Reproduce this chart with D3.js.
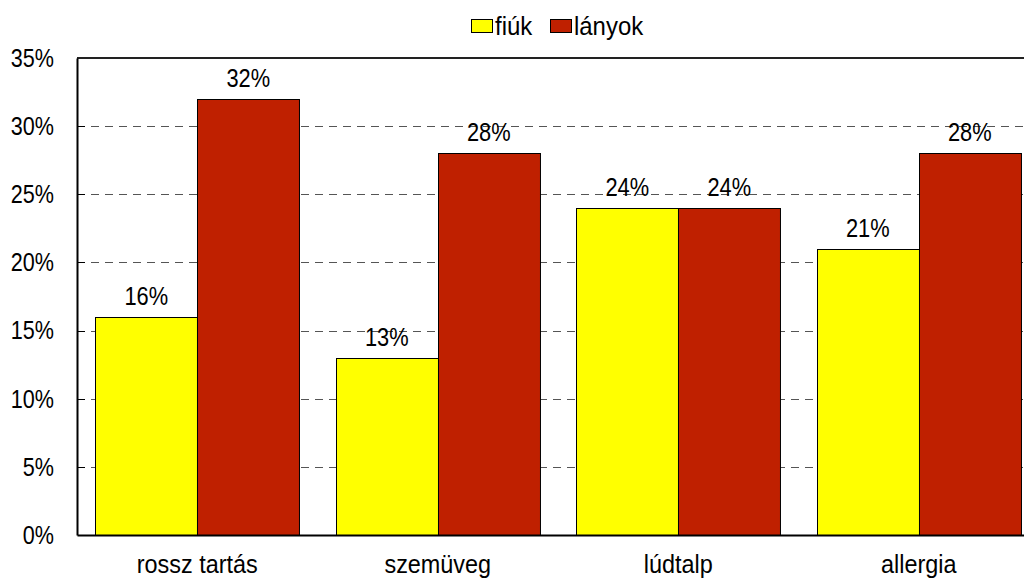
<!DOCTYPE html>
<html>
<head>
<meta charset="utf-8">
<script src="https://cdn.jsdelivr.net/npm/d3@7"></script>
<style>
  html, body { margin: 0; padding: 0; background: #fff; overflow: hidden; }
  svg text { font-family: "Liberation Sans", Arial, sans-serif; fill: #000; }
</style>
</head>
<body>
<div id="chart"></div>
<script>
// data
const categories = ['rossz tartás', 'szemüveg', 'lúdtalp', 'allergia']
const seriesNames = ['fiúk', 'lányok']
const fiuk = [16, 13, 24, 21]
const lanyok = [32, 28, 24, 28]
const yTicks = [0, 5, 10, 15, 20, 25, 30, 35]
const colors = ['#FFFF00', '#BF2000']

const width = 1024, height = 579
// plot area runs a bit past the right edge of the picture (it is cropped there)
const plotLeft = 77, plotRight = 1039, plotTop = 58, plotBottom = 535

const svg = d3.select('#chart').append('svg').attr('width', width).attr('height', height)

const y = d3.scaleLinear().domain([0, 35]).range([plotBottom, plotTop])
const x0 = d3.scaleBand().domain(categories).range([plotLeft, plotRight]).paddingInner(0.152).paddingOuter(0.076)
const x1 = d3.scaleBand().domain(seriesNames).range([0, x0.bandwidth()])

// squeeze text so it looks like the narrow font of the original
function squeeze(sel, k) {
  sel.each(function () {
    const w = this.getComputedTextLength()
    d3.select(this).attr('textLength', w * k).attr('lengthAdjust', 'spacingAndGlyphs')
  })
}

// gridlines
svg.append('g').selectAll('line')
  .data(yTicks.filter(t => t > 0 && t < 35))
  .enter().append('line')
  .attr('x1', plotLeft).attr('x2', plotRight)
  .attr('y1', d => Math.round(y(d)) + 0.5).attr('y2', d => Math.round(y(d)) + 0.5)
  .attr('stroke', '#555').attr('stroke-width', 1)
  .attr('stroke-dasharray', '8,6')

// bars
const rows = seriesNames.map((s, i) => ({ name: s, values: i === 0 ? fiuk : lanyok, color: colors[i] }))
const groups = svg.append('g').selectAll('g')
  .data(rows).enter().append('g')

groups.selectAll('rect')
  .data(r => r.values.map((v, j) => ({ v, cat: categories[j], name: r.name, color: r.color })))
  .enter().append('rect')
  .attr('x', d => Math.round(x0(d.cat) + x1(d.name)) + 0.5)
  .attr('y', d => Math.round(y(d.v)) + 0.5)
  .attr('width', x1.bandwidth())
  .attr('height', d => plotBottom - Math.round(y(d.v)))
  .attr('fill', d => d.color)
  .attr('stroke', '#000').attr('stroke-width', 1)

// value labels
const vals = groups.selectAll('text.val')
  .data(r => r.values.map((v, j) => ({ v, cat: categories[j], name: r.name })))
  .enter().append('text')
  .attr('class', 'val')
  .attr('x', d => x0(d.cat) + x1(d.name) + x1.bandwidth() / 2)
  .attr('y', d => y(d.v) - 12)
  .attr('text-anchor', 'middle')
  .style('font-size', '26px')
  .text(d => d.v + '%')
squeeze(vals, 0.84)

// top border
svg.append('line').attr('x1', plotLeft).attr('x2', plotRight).attr('y1', plotTop).attr('y2', plotTop)
  .attr('stroke', '#222').attr('stroke-width', 2)

// y axis
const yAxis = d3.axisLeft(y).tickValues(yTicks).tickSize(0).tickPadding(23).tickFormat(d => d + '%')
const gy = svg.append('g').attr('transform', `translate(${plotLeft},0)`).call(yAxis)
gy.select('.domain').attr('stroke', '#000').attr('stroke-width', 2)
gy.selectAll('text').style('font-size', '26px').attr('fill', '#000').attr('font-family', null)
squeeze(gy.selectAll('text'), 0.83)

// small inner ticks on the left axis
svg.append('g').selectAll('line')
  .data(yTicks.filter(t => t > 0 && t < 35))
  .enter().append('line')
  .attr('x1', plotLeft).attr('x2', plotLeft + 8)
  .attr('y1', d => Math.round(y(d)) + 0.5).attr('y2', d => Math.round(y(d)) + 0.5)
  .attr('stroke', '#000')

// x axis
const xAxis = d3.axisBottom(x0).tickSize(0).tickPadding(20)
const gx = svg.append('g').attr('transform', `translate(0,${plotBottom})`).call(xAxis)
gx.select('.domain').attr('stroke', '#000').attr('stroke-width', 2)
gx.selectAll('text').style('font-size', '26px').attr('fill', '#000').attr('font-family', null)
squeeze(gx.selectAll('text'), 0.9)

// legend
const legend = svg.append('g')
const legX = [471, 550]
rows.forEach((r, i) => {
  legend.append('rect')
    .attr('x', legX[i] + 0.5).attr('y', 19.5).attr('width', 21).attr('height', 13)
    .attr('fill', r.color).attr('stroke', '#000')
  const t = legend.append('text')
    .attr('x', legX[i] + 24).attr('y', 35)
    .style('font-size', '26px')
    .text(r.name)
  squeeze(t, 0.92)
})
</script>
</body>
</html>
